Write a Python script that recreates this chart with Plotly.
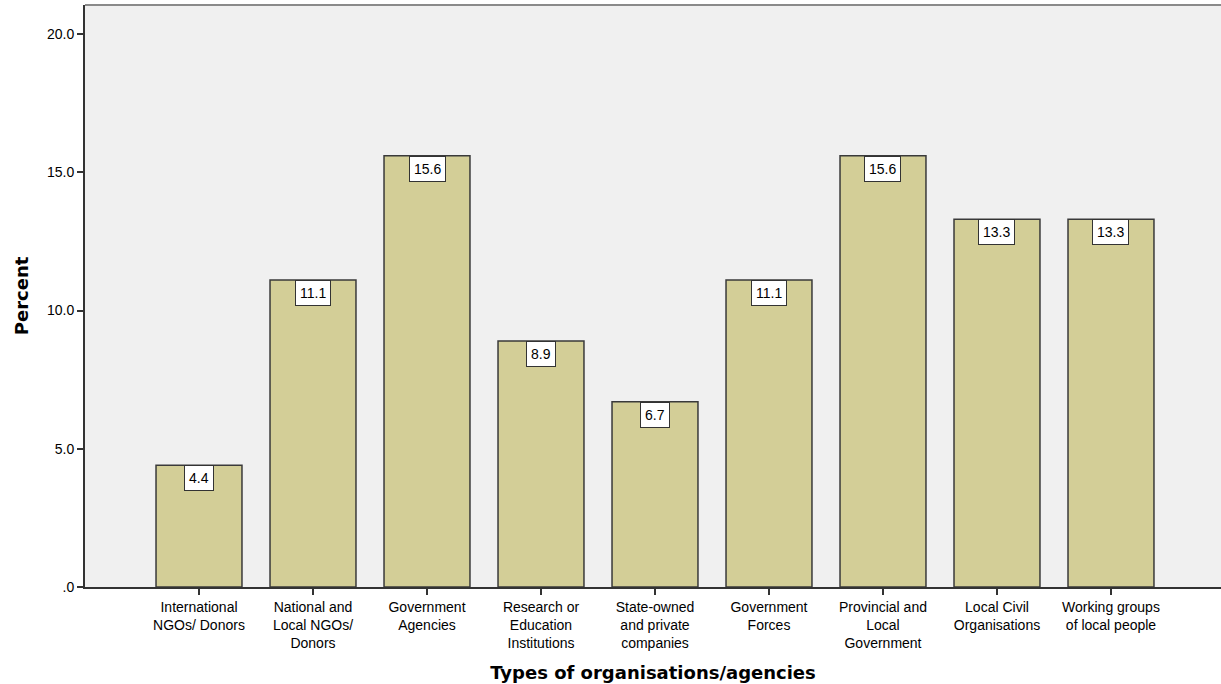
import plotly.graph_objects as go

categories = [
    "International<br>NGOs/ Donors",
    "National and<br>Local NGOs/<br>Donors",
    "Government<br>Agencies",
    "Research or<br>Education<br>Institutions",
    "State-owned<br>and private<br>companies",
    "Government<br>Forces",
    "Provincial and<br>Local<br>Government",
    "Local Civil<br>Organisations",
    "Working groups<br>of local people",
]
percent = [4.4, 11.1, 15.6, 8.9, 6.7, 11.1, 15.6, 13.3, 13.3]
ytick_vals = [0, 5, 10, 15, 20]
ytick_text = [".0", "5.0", "10.0", "15.0", "20.0"]

FONT = "Liberation Sans, Arial, sans-serif"
TITLE_FONT = "DejaVu Sans, sans-serif"
xpos = list(range(len(categories)))

fig = go.Figure()
fig.add_trace(go.Bar(
    x=xpos, y=percent, width=0.754,
    marker=dict(color="#D3CE97", line=dict(color="#3a3a3a", width=1.5)),
    hoverinfo="skip",
))

for xi, v in zip(xpos, percent):
    fig.add_annotation(
        x=xi, y=v, xref="x", yref="y", text=f"{v:.1f}",
        showarrow=False, yanchor="top", xanchor="center",
        font=dict(family=FONT, size=14, color="black"),
        bgcolor="white", bordercolor="#333333", borderwidth=1, borderpad=4,
    )

fig.add_shape(type="line", xref="paper", yref="paper", x0=0, x1=1, y0=1, y1=1,
              line=dict(color="#8a8a8a", width=2))

fig.update_layout(
    width=1221, height=684,
    margin=dict(l=85, r=0, t=5, b=97),
    paper_bgcolor="white", plot_bgcolor="#F0F0F0",
    showlegend=False,
    font=dict(family=FONT, size=14, color="black"),
    xaxis=dict(
        range=[-1, 8.965], tickmode="array", tickvals=xpos, ticktext=categories,
        showline=True, linecolor="#333333", linewidth=2,
        ticks="outside", ticklen=6, tickwidth=1.5, tickcolor="#333333",
        showgrid=False, zeroline=False,
        tickfont=dict(family=FONT, size=14, color="black"),
        title=dict(text="<b>Types of organisations/agencies</b>",
                   font=dict(family=TITLE_FONT, size=18, color="black"),
                   standoff=16),
    ),
    yaxis=dict(
        range=[0, 21.05], tickmode="array", tickvals=ytick_vals, ticktext=ytick_text,
        showline=True, linecolor="#333333", linewidth=2,
        ticks="outside", ticklen=6, tickwidth=1.5, tickcolor="#333333",
        showgrid=False, zeroline=False,
        tickfont=dict(family=FONT, size=14, color="black"),
        title=dict(text="<b>Percent</b>",
                   font=dict(family=TITLE_FONT, size=18, color="black"),
                   standoff=14),
    ),
)

fig.write_html("out.html")
